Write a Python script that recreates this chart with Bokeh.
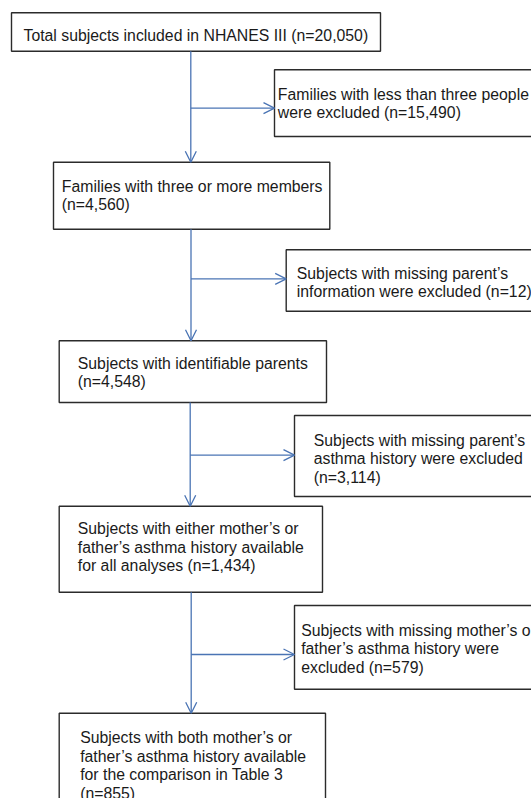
from bokeh.plotting import figure
from bokeh.models import Range1d, Arrow, OpenHead, ColumnDataSource
from bokeh.core.properties import value
from bokeh.embed import file_html
from bokeh.resources import INLINE

# ---- data (texts of the flow chart) ----
main_steps = [
    ["Total subjects included in NHANES III (n=20,050)"],
    ["Families with three or more members", "(n=4,560)"],
    ["Subjects with identifiable parents", "(n=4,548)"],
    ["Subjects with either mother\u2019s or", "father\u2019s asthma history available",
     "for all analyses (n=1,434)"],
    ["Subjects with both mother\u2019s or", "father\u2019s asthma history available",
     "for the comparison in Table 3", "(n=855)"],
]
exclusions = [
    ["Families with less than three people", "were excluded (n=15,490)"],
    ["Subjects with missing parent\u2019s", "information were excluded (n=12)"],
    ["Subjects with missing parent\u2019s", "asthma history were excluded", "(n=3,114)"],
    ["Subjects with missing mother\u2019s or", "father\u2019s asthma history were",
     "excluded (n=579)"],
]

# ---- layout (screen-pixel coordinates of page) ----
main_boxes = [  # left, top, right, bottom
    (11, 12.3, 380, 50.7),
    (53, 161.7, 329.3, 228.7),
    (58.7, 340.3, 326, 402),
    (58.7, 505.7, 322, 591.7),
    (58.7, 712.7, 325, 830),
]
main_text = [  # x, first baseline
    (23, 35),
    (61.3, 186),
    (77.3, 362.5),
    (77.3, 528.3),
    (79.7, 737.3),
]
side_boxes = [
    (274, 69.3, 560, 136),
    (285.7, 249.3, 560, 310.7),
    (294, 415, 560, 496),
    (294, 605, 560, 688.7),
]
side_text = [
    (277.3, 94),
    (296.3, 272.5),
    (313.3, 440),
    (300.7, 630),
]
trunk_x = [190.3, 190.5, 189.7, 190.7]
branch_y = [107.7, 278.3, 454.7, 654]
LINE_H = 18.4

BLUE = "#4a74b4"
BOX = "#2b2b2b"
TXT = "#1a1a1a"
FONT = value("Liberation Sans")

p = figure(width=531, height=798, output_backend="svg", toolbar_location=None,
           x_range=Range1d(0, 531), y_range=Range1d(798, 0),
           x_axis_location=None, y_axis_location=None, min_border=0)
p.grid.visible = False
p.outline_line_color = None
p.background_fill_color = "white"
p.border_fill_color = "white"

# connectors
for i in range(4):
    x = trunk_x[i]
    y0 = main_boxes[i][3]
    y1 = main_boxes[i + 1][1]
    p.add_layout(Arrow(end=OpenHead(size=11, line_color=BLUE, line_width=1.3),
                       x_start=x, y_start=y0, x_end=x, y_end=y1,
                       line_color=BLUE, line_width=1.3))
    by = branch_y[i]
    p.add_layout(Arrow(end=OpenHead(size=11, line_color=BLUE, line_width=1.3),
                       x_start=x, y_start=by, x_end=side_boxes[i][0], y_end=by,
                       line_color=BLUE, line_width=1.3))

# boxes
allb = main_boxes + side_boxes
bsrc = ColumnDataSource(dict(
    left=[b[0] for b in allb], top=[b[1] for b in allb],
    right=[b[2] for b in allb], bottom=[b[3] for b in allb]))
p.quad(left="left", right="right", top="top", bottom="bottom", source=bsrc,
       fill_color="white", line_color=BOX, line_width=1.4)

# texts
xs, ys, ts = [], [], []
for lines, (tx, ty) in zip(main_steps + exclusions, main_text + side_text):
    for k, line in enumerate(lines):
        xs.append(tx)
        ys.append(ty + k * LINE_H)
        ts.append(line)
p.text(x=xs, y=ys, text=ts, text_font=FONT, text_font_size="15.8px",
       text_color=TXT, text_align="left", text_baseline="alphabetic")

open("out.html", "w").write(file_html(p, INLINE))
